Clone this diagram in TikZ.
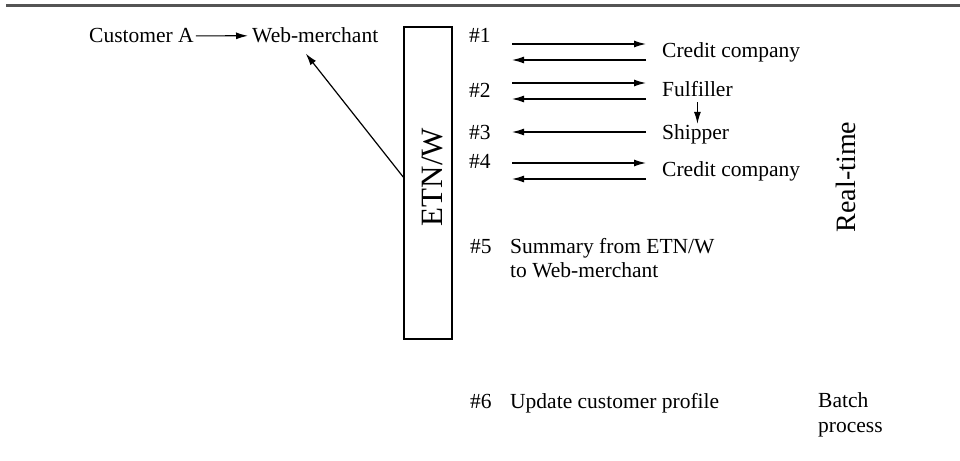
\documentclass[tikz,border=0pt]{standalone}
\usepackage{fontspec}
\setmainfont{Liberation Serif}
\usetikzlibrary{arrows.meta}

\tikzset{
  txt/.style={inner sep=0pt, anchor=base west, font=\fontsize{21.5}{24}\selectfont},
  bigtxt/.style={inner sep=0pt, anchor=base, rotate=90},
  arr/.style={line width=1.2pt, -{Latex[length=12pt,width=7pt]}},
  rule/.style={line width=3pt, draw=black!67},
}

\begin{document}
\begin{tikzpicture}[x=1pt,y=-1pt]
    \useasboundingbox (0,0) rectangle (960,460);

    % Linea superior
    \draw[rule] (6,6) -- (960,6);

    % Cliente y comerciante
    \node[txt] (cust) at (89,43) {Customer A};
    \node[txt] (web) at (252,43) {Web-merchant};
    \draw[arr,shorten <=2pt,shorten >=4pt] (cust) -- (web);

    % Caja ETN/W
    \node[draw,line width=1.6pt,minimum width=48pt,minimum height=312pt,inner sep=0pt] (box) at (428,183) {};
    \node[bigtxt,font=\fontsize{31}{34}\selectfont] (etn) at (442,177) {ETN/W};
    \draw[arr] ([yshift=6pt]box.west) -- ([xshift=-9.5pt,yshift=-10pt]web.south);

    % Pasos en tiempo real
    \node[txt] (n1) at (469,42) {\#1};
    \node[txt] (cc1) at (662,57) {Credit company};
    \node[txt] (n2) at (469,97) {\#2};
    \node[txt] (ful) at (662,96) {Fulfiller};
    \node[txt] (n3) at (469,139) {\#3};
    \node[txt] (ship) at (662,139) {Shipper};
    \node[txt] (n4) at (469,168) {\#4};
    \node[txt] (cc2) at (662,176) {Credit company};

    \coordinate (a1) at (512,44);  \coordinate (b1) at (646,44);
    \coordinate (a1r) at (512,60); \coordinate (b1r) at (646,60);
    \coordinate (a2) at (512,83);  \coordinate (b2) at (646,83);
    \coordinate (a2r) at (512,99); \coordinate (b2r) at (646,99);
    \coordinate (a3r) at (512,132); \coordinate (b3r) at (646,132);
    \coordinate (a4) at (512,163); \coordinate (b4) at (646,163);
    \coordinate (a4r) at (512,179); \coordinate (b4r) at (646,179);

    \draw[arr] (a1) -- (b1);
    \draw[arr] (b1r) -- (a1r);
    \draw[arr] (a2) -- (b2);
    \draw[arr] (b2r) -- (a2r);
    \draw[arr] (b3r) -- (a3r);
    \draw[arr] (a4) -- (b4);
    \draw[arr] (b4r) -- (a4r);

    \draw[arr,shorten <=6pt] (ful.south) -- (ful.south |- ship.north);

    \node[bigtxt,font=\fontsize{28}{30}\selectfont] (rt) at (855,177) {Real-time};

    % Resumen y lote
    \node[txt] (n5) at (470,253) {\#5};
    \node[txt,align=left] (sum) at (510,277) {Summary from ETN/W\\to Web-merchant};
    \node[txt] (n6) at (470,408) {\#6};
    \node[txt] (upd) at (510,408) {Update customer profile};
    \node[txt,align=left,font=\fontsize{21.5}{25}\selectfont] (batch) at (818,432) {Batch\\process};
\end{tikzpicture}
\end{document}
